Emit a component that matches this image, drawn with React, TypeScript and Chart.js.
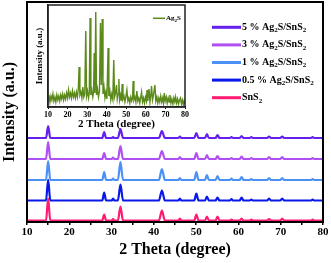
import React, { useEffect, useRef } from "react";
import { Chart, registerables } from "chart.js";
Chart.register(...registerables);

// 2θ positions (degree) used for the main XRD patterns
const twoTheta = [
  10,
  14.5, 15.0, 15.5,
  27.8, 28.25, 28.7,
  30.05, 30.35, 30.65,
  31.5, 32.1, 32.7,
  41.2, 41.9, 42.6,
  45.8, 46.15, 46.5,
  49.55, 50.05, 50.55,
  52.1, 52.55, 53.0,
  54.6, 55.05, 55.5,
  58.0, 58.35, 58.7,
  60.3, 60.75, 61.2,
  62.7, 63.05, 63.4,
  66.8, 67.25, 67.7,
  69.9, 70.35, 70.8,
  77.2, 77.55, 77.9,
  80,
];

const seriesNames = [
  "5 % Ag_2S/SnS_2",
  "3 % Ag_2S/SnS_2",
  "1 % Ag_2S/SnS_2",
  "0.5 % Ag_2S/SnS_2",
  "SnS_2",
];
const seriesColors = ["#6420ee", "#b050f2", "#4a90f5", "#0818e8", "#ff1a72"];
const offsets = [84, 63, 42, 21.5, 1.5];

const intensity5 = [0, 0, 12, 0, 0, 6, 0, 0, 1, 0, 0, 9, 0, 0, 7, 0, 0, 1.5, 0, 0, 5, 0, 0, 4, 0, 0, 3, 0, 0, 1, 0, 0, 2, 0, 0, 1, 0, 0, 1.5, 0, 0, 1.5, 0, 0, 1, 0, 0];
const intensity3 = [0, 0, 17, 0, 0, 6, 0, 0, 1.5, 0, 0, 13, 0, 0, 8, 0, 0, 2, 0, 0, 6, 0, 0, 4, 0, 0, 3, 0, 0, 1, 0, 0, 2.5, 0, 0, 1, 0, 0, 2, 0, 0, 2, 0, 0, 1, 0, 0];
const intensity1 = [0, 0, 19, 0, 0, 8, 0, 0, 1.5, 0, 0, 18, 0, 0, 11, 0, 0, 2, 0, 0, 8, 0, 0, 5, 0, 0, 4, 0, 0, 1.5, 0, 0, 3, 0, 0, 1, 0, 0, 2, 0, 0, 2, 0, 0, 1, 0, 0];
const intensity05 = [0, 0, 21, 0, 0, 8, 0, 0, 2, 0, 0, 16, 0, 0, 10, 0, 0, 2, 0, 0, 7, 0, 0, 4, 0, 0, 3, 0, 0, 1.5, 0, 0, 3, 0, 0, 1, 0, 0, 2, 0, 0, 2, 0, 0, 1, 0, 0];
const intensitySnS2 = [0, 0, 22, 0, 0, 6, 0, 0, 1.5, 0, 0, 14, 0, 0, 10, 0, 0, 2, 0, 0, 6, 0, 0, 4, 0, 0, 4, 0, 0, 1, 0, 0, 2, 0, 0, 1, 0, 0, 1.5, 0, 0, 2, 0, 0, 1, 0, 0];
const intensities = [intensity5, intensity3, intensity1, intensity05, intensitySnS2];

const mainXTicks = [10, 20, 30, 40, 50, 60, 70, 80];

// Inset: Ag2S pattern [2θ, intensity]
const ag2sPattern: number[][] = [
  [10, 6], [10.5, 12], [11, 5], [11.5, 11], [12, 7], [12.5, 13], [13, 6], [13.5, 10], [14, 5], [14.5, 12],
  [15, 7], [15.5, 11], [16, 6], [16.5, 12], [17, 8], [17.5, 13], [18, 7], [18.5, 12], [19, 8], [19.5, 14],
  [20, 9], [20.5, 17], [21, 10], [21.5, 14], [22, 9], [22.5, 16], [23, 10], [23.5, 14], [24, 9], [24.5, 15],
  [25, 10], [25.5, 18], [25.9, 40], [26.3, 12], [26.8, 15], [27.3, 9], [27.8, 20], [28.3, 10], [28.8, 13],
  [29.3, 76], [29.7, 11], [30.2, 16], [30.7, 9], [31.1, 14], [31.5, 89], [31.9, 12], [32.4, 17], [32.9, 10],
  [33.3, 15], [33.6, 54], [34.0, 14], [34.4, 95], [34.8, 12], [35.3, 18], [35.8, 10], [36.3, 16], [36.8, 84],
  [37.2, 22], [37.7, 88], [38.1, 13], [38.6, 20], [39.1, 9], [39.6, 15], [40.1, 8], [40.7, 59], [41.1, 11],
  [41.6, 16], [42.1, 7], [42.6, 13], [43.1, 8], [43.6, 47], [44.0, 10], [44.5, 14], [45.0, 22], [45.4, 8],
  [45.8, 13], [46.2, 28], [46.6, 7], [47.1, 12], [47.5, 6], [47.9, 23], [48.3, 8], [48.8, 11], [49.3, 5],
  [49.8, 10], [50.3, 17], [50.8, 6], [51.3, 9], [51.8, 4], [52.3, 10], [52.8, 6], [53.2, 9], [53.5, 26],
  [53.9, 7], [54.4, 10], [54.9, 5], [55.4, 16], [55.9, 6], [56.4, 9], [56.9, 4], [57.4, 10], [57.8, 15],
  [58.3, 5], [58.8, 9], [59.3, 4], [59.8, 10], [60.3, 6], [60.6, 17], [61.0, 6], [61.6, 18], [62.1, 5],
  [62.5, 11], [62.9, 21], [63.4, 7], [63.9, 12], [64.6, 22], [65.1, 6], [65.6, 10], [66.1, 4], [66.6, 9],
  [67.1, 5], [67.6, 11], [68.1, 5], [68.6, 9], [69.0, 4], [69.4, 14], [69.9, 6], [70.4, 10], [70.9, 4],
  [71.4, 9], [71.9, 5], [72.3, 12], [72.8, 4], [73.3, 8], [73.8, 3], [74.3, 9], [74.8, 5], [75.2, 10],
  [75.7, 4], [76.2, 8], [76.7, 3], [77.2, 7], [77.7, 9], [78.2, 3], [78.7, 7], [79.2, 2], [79.6, 6], [80, 3],
];
const insetName = "Ag_2S";
const insetColor = "#5b8a1a";

const FONT = "'Liberation Serif', 'Times New Roman', serif";

function drawRich(ctx: CanvasRenderingContext2D, text: string, x: number, y: number, size: number, bold: boolean) {
  const parts = text.split(/(_2)/);
  let cx = x;
  ctx.textBaseline = "middle";
  ctx.textAlign = "left";
  ctx.fillStyle = "#000";
  for (const p of parts) {
    if (!p) continue;
    if (p === "_2") {
      const s = Math.round(size * 0.68);
      ctx.font = `${bold ? "bold " : ""}${s}px ${FONT}`;
      ctx.fillText("2", cx, y + size * 0.3);
      cx += ctx.measureText("2").width;
    } else {
      ctx.font = `${bold ? "bold " : ""}${size}px ${FONT}`;
      ctx.fillText(p, cx, y);
      cx += ctx.measureText(p).width;
    }
  }
}

export default function App() {
  const mainRef = useRef<HTMLCanvasElement>(null);
  const insetRef = useRef<HTMLCanvasElement>(null);

  useEffect(() => {
    const boxPlugin = {
      id: "box",
      afterDraw(chart: any) {
        const { ctx, chartArea } = chart;
        ctx.save();
        ctx.strokeStyle = "#000";
        ctx.lineWidth = 2;
        ctx.strokeRect(chartArea.left, chartArea.top, chartArea.right - chartArea.left, chartArea.bottom - chartArea.top);
        seriesNames.forEach((name, i) => {
          const y = 27.3 + i * 17.6;
          ctx.strokeStyle = seriesColors[i];
          ctx.lineWidth = 3;
          ctx.beginPath();
          ctx.moveTo(212, y);
          ctx.lineTo(241, y);
          ctx.stroke();
          drawRich(ctx, name, 242, y, 10, true);
        });
        ctx.restore();
      },
    };

    const main = new Chart(mainRef.current!, {
      type: "line",
      data: {
        datasets: seriesNames.map((name, k) => ({
          label: name,
          data: twoTheta.map((x, i) => ({ x, y: intensities[k][i] + offsets[k] })),
          borderColor: seriesColors[k],
          backgroundColor: seriesColors[k],
          borderWidth: 2.2,
          pointRadius: 0,
          cubicInterpolationMode: "monotone",
          fill: false,
        })),
      },
      options: {
        responsive: false,
        animation: false,
        layout: { padding: { top: 2, right: 8, left: 0, bottom: 0 } },
        plugins: { legend: { display: false }, tooltip: { enabled: false } },
        scales: {
          x: {
            type: "linear",
            min: 10,
            max: 80,
            afterBuildTicks: (s: any) => {
              const t: any[] = [];
              for (const v of mainXTicks) {
                t.push({ value: v });
                if (v < 80) t.push({ value: v + 5 });
              }
              s.ticks = t;
            },
            ticks: {
              autoSkip: false,
              maxRotation: 0,
              padding: 1,
              color: "#000",
              font: { family: FONT, size: 11, weight: "bold" },
              callback: (v: any) => (mainXTicks.includes(Number(v)) ? String(v) : ""),
            },
            grid: { display: true, drawOnChartArea: false, drawTicks: true, tickLength: 3, color: "#000", lineWidth: 1.5 },
            border: { display: true, color: "#000", width: 2 },
            title: {
              display: true,
              text: "2 Theta (degree)",
              color: "#000",
              font: { family: FONT, size: 16, weight: "bold" },
              padding: { top: 0, bottom: 4 },
            },
            afterFit: (s: any) => {
              s.height = 41;
            },
          },
          y: {
            min: 0,
            max: 220,
            ticks: { display: false },
            grid: { display: false },
            border: { display: true, color: "#000", width: 2 },
            title: {
              display: true,
              text: "Intensity (a.u.)",
              color: "#000",
              font: { family: FONT, size: 16, weight: "bold" },
              padding: { top: 0, bottom: 0 },
            },
            afterFit: (s: any) => {
              s.width = 27;
            },
          },
        },
      } as any,
      plugins: [boxPlugin],
    });

    const insetPlugin = {
      id: "insetBox",
      beforeDraw(chart: any) {
        const { ctx, chartArea } = chart;
        ctx.save();
        ctx.fillStyle = "#fff";
        ctx.fillRect(chartArea.left, chartArea.top, chartArea.right - chartArea.left, chartArea.bottom - chartArea.top);
        ctx.restore();
      },
      afterDraw(chart: any) {
        const { ctx, chartArea } = chart;
        ctx.save();
        ctx.strokeStyle = "#222";
        ctx.lineWidth = 1.5;
        ctx.strokeRect(chartArea.left, chartArea.top, chartArea.right - chartArea.left, chartArea.bottom - chartArea.top);
        ctx.strokeStyle = insetColor;
        ctx.lineWidth = 1.5;
        ctx.beginPath();
        ctx.moveTo(125, 15.3);
        ctx.lineTo(137, 15.3);
        ctx.stroke();
        drawRich(ctx, insetName, 138, 15.3, 7, true);
        ctx.restore();
      },
    };

    const inset = new Chart(insetRef.current!, {
      type: "line",
      data: {
        datasets: [
          {
            label: insetName,
            data: ag2sPattern.map(([x, y]) => ({ x, y })),
            borderColor: insetColor,
            borderWidth: 1.4,
            pointRadius: 0,
            tension: 0,
            fill: false,
          },
        ],
      },
      options: {
        responsive: false,
        animation: false,
        layout: { padding: { top: 2, right: 5, left: 0, bottom: 0 } },
        plugins: { legend: { display: false }, tooltip: { enabled: false } },
        scales: {
          x: {
            type: "linear",
            min: 10,
            max: 80,
            ticks: {
              stepSize: 10,
              autoSkip: false,
              maxRotation: 0,
              padding: 1,
              color: "#000",
              font: { family: FONT, size: 8, weight: "bold" },
            },
            grid: { display: true, drawOnChartArea: false, tickLength: 2, color: "#000", lineWidth: 1 },
            border: { display: true, color: "#222", width: 1.5 },
            title: {
              display: true,
              text: "2 Theta (degree)",
              color: "#000",
              font: { family: FONT, size: 11, weight: "bold" },
              padding: { top: 0, bottom: 0 },
            },
            afterFit: (s: any) => {
              s.height = 24;
            },
          },
          y: {
            min: 0,
            max: 102,
            ticks: { display: false },
            grid: { display: false },
            border: { display: true, color: "#222", width: 1.5 },
            title: {
              display: true,
              text: "Intensity (a.u.)",
              color: "#000",
              font: { family: FONT, size: 9, weight: "bold" },
              padding: { top: 6, bottom: 0 },
            },
            afterFit: (s: any) => {
              s.width = 20;
            },
          },
        },
      } as any,
      plugins: [insetPlugin],
    });

    return () => {
      main.destroy();
      inset.destroy();
    };
  }, []);

  return (
    <div style={{ position: "fixed", left: 0, top: 0, width: 331, height: 263, background: "#fff" }}>
      <canvas ref={mainRef} width={331} height={263} style={{ position: "absolute", left: 0, top: 0, width: 331, height: 263 }} />
      <canvas ref={insetRef} width={162} height={128} style={{ position: "absolute", left: 28, top: 3, width: 162, height: 128 }} />
    </div>
  );
}
